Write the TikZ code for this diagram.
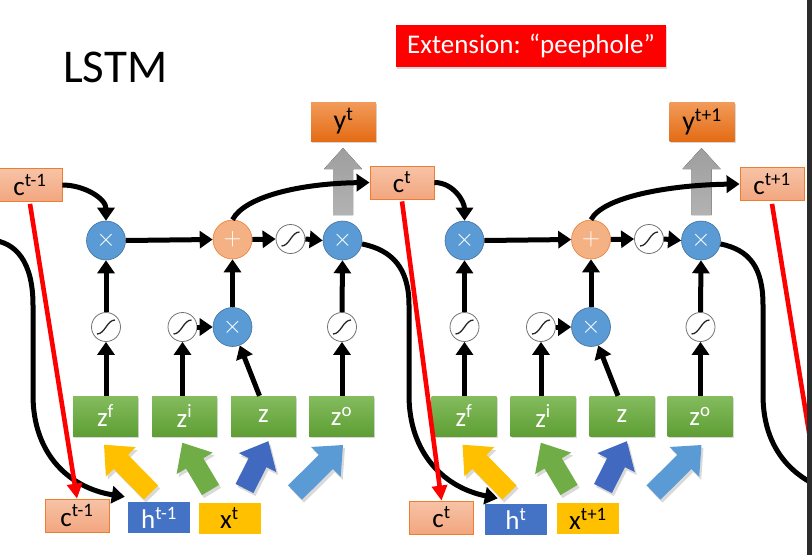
\documentclass[tikz,border=0pt]{standalone}
\usepackage{fontspec}
\setmainfont{Carlito}
\usetikzlibrary{arrows.meta,shadows,calc}
\definecolor{multf}{HTML}{5B9BD5}
\definecolor{multb}{HTML}{41719C}
\definecolor{plusf}{HTML}{F4B183}
\definecolor{plusb}{HTML}{ED7D31}
\definecolor{zt}{HTML}{84BC5E}
\definecolor{zb}{HTML}{5E9E34}
\definecolor{ctop}{HTML}{F7C3A6}
\definecolor{cbot}{HTML}{F2A67F}
\definecolor{cbd}{HTML}{ED7D31}
\definecolor{yt}{HTML}{F29B5A}
\definecolor{ybt}{HTML}{E46C15}
\definecolor{hblue}{HTML}{4472C4}
\definecolor{xyel}{HTML}{FFC000}
\definecolor{aYel}{HTML}{FFC000}
\definecolor{aGrn}{HTML}{70AD47}
\definecolor{aBlu}{HTML}{4169C0}
\definecolor{aLbl}{HTML}{5B9BD5}
\definecolor{stripc}{HTML}{2B2B2B}
\newcommand\myfs[1]{\fontsize{#1}{#1}\selectfont}
\tikzset{
  conn/.style={line width=5pt, -{Triangle[length=13pt,width=17pt]}},
  redconn/.style={draw=red, line width=4.6pt, -{Triangle[length=15pt,width=15pt]}},
  mult/.style={circle, fill=multf, draw=multb, line width=0.6pt, minimum size=39pt, inner sep=0pt, text=white, font=\myfs{28}},
  plusc/.style={mult, fill=plusf, draw=plusb},
  sig/.style={circle, fill=white, draw=black!55, line width=0.8pt, minimum size=29pt, inner sep=0pt,
    path picture={\draw[line width=1.3pt, black!85] ([shift={(-9pt,-7pt)}]path picture bounding box.center) .. controls +(8pt,0pt) and +(-8pt,0pt) .. ([shift={(9pt,7pt)}]path picture bounding box.center);}},
  zbox/.style={rectangle, minimum width=65pt, minimum height=40pt, inner sep=0pt, top color=zt, bottom color=zb, text=white, font=\myfs{27},
    drop shadow={shadow xshift=1pt, shadow yshift=-2pt, opacity=0.3}},
  cbox/.style={rectangle, minimum width=64pt, minimum height=33pt, inner sep=0pt, top color=ctop, bottom color=cbot, draw=cbd, line width=0.8pt, font=\myfs{27}},
  hbox/.style={rectangle, minimum width=62pt, minimum height=31pt, inner sep=0pt, fill=hblue, text=white, font=\myfs{27}},
  xbox/.style={rectangle, minimum width=62pt, minimum height=31pt, inner sep=0pt, fill=xyel, text=black, font=\myfs{27}},
  ybox/.style={rectangle, minimum width=65pt, minimum height=39pt, inner sep=0pt, top color=yt, bottom color=ybt, font=\myfs{28},
    drop shadow={shadow xshift=1pt, shadow yshift=-2pt, opacity=0.3}},
  titlebox/.style={rectangle, minimum width=270pt, minimum height=42pt, inner sep=0pt, fill=red, text=white, font=\myfs{27},
    drop shadow={shadow xshift=1pt, shadow yshift=-2pt, opacity=0.3}},
}
% block arrow: tail x, tail y, angle, length, colour
\newcommand\barr[5]{%
  \begin{scope}[shift={({#1+2},{#2+3})}, rotate=#3]
    \fill[black, opacity=0.15] (0,-10) -- ({#4-24},-10) -- ({#4-24},-21) -- (#4,0) -- ({#4-24},21) -- ({#4-24},10) -- (0,10) -- cycle;
  \end{scope}
  \begin{scope}[shift={(#1,#2)}, rotate=#3]
    \fill[#5] (0,-10) -- ({#4-24},-10) -- ({#4-24},-21) -- (#4,0) -- ({#4-24},21) -- ({#4-24},10) -- (0,10) -- cycle;
  \end{scope}}
% cell: shift, suffix, y text, left c node, right c node
\newcommand\lstmcell[5]{%
  \begin{scope}[shift={(#1,0)}]
    \fill[top color=black!38, bottom color=black!30] (333,215) -- (333,169) -- (324,169) -- (343,148) -- (362,169) -- (353,169) -- (353,215) -- cycle;
    \node[ybox] (y#2) at (343.5,121.5) {y\textsuperscript{#3}};
    \node[mult] (fX#2) at (106,240.5) {$\times$};
    \node[plusc] (pl#2) at (232.5,239.5) {$+$};
    \node[sig] (sc#2) at (290.5,239) {};
    \node[mult] (oX#2) at (342.5,240.5) {$\times$};
    \node[sig] (sf#2) at (106,327) {};
    \node[sig] (si#2) at (182.5,327) {};
    \node[mult] (iX#2) at (232.5,327) {$\times$};
    \node[sig] (so#2) at (342,327) {};
    \node[zbox] (zf#2) at (105.5,416) {z\textsuperscript{f}};
    \node[zbox] (zi#2) at (184.5,416) {z\textsuperscript{i}};
    \node[zbox] (zz#2) at (263.5,416) {z};
    \node[zbox] (zo#2) at (341.5,416) {z\textsuperscript{o}};
    \barr{151}{492.5}{134.5}{67}{aYel}
    \barr{210.5}{490}{120.8}{55}{aGrn}
    \barr{244.5}{488.5}{63.2}{53}{aBlu}
    \barr{295}{492.5}{44.7}{67.5}{aLbl}
  \end{scope}
  \draw[conn] (sf#2.south |- zf#2.north) -- (sf#2.south);
  \draw[conn] (sf#2.north) -- (fX#2.south);
  \draw[conn] (si#2.south |- zi#2.north) -- (si#2.south);
  \draw[conn] (si#2.east) -- (iX#2.west);
  \draw[conn] ($(zz#2.north)+(-4,0)$) -- (iX#2);
  \draw[conn] (iX#2.north) -- (pl#2.south);
  \draw[conn] (fX#2.east) -- (pl#2.west);
  \draw[conn] (pl#2.east) -- (sc#2.west);
  \draw[conn] (sc#2.east) -- (oX#2.west);
  \draw[conn] (so#2.south |- zo#2.north) -- (so#2.south);
  \draw[conn] (so#2.north) -- (oX#2.south);
  \draw[conn] (#4.east) to[out=0,in=90] (fX#2.north);
  \draw[conn] (pl#2.north) .. controls +(12,-23) and +(-70,1) .. (#5.west);
}
\begin{document}
\begin{tikzpicture}[x=1pt,y=-1pt]
\useasboundingbox (0,0) rectangle (812,555);
\clip (0,0) rectangle (812,555);
\fill[white] (0,0) rectangle (812,555);
\node[anchor=base west, font=\myfs{47}, inner sep=0pt] (title) at (63,82) {LSTM};
\node[titlebox] (ext) at (531,46) {Extension: “peephole”};
% top memory boxes
\node[cbox] (ctA) at (30,185) {c\textsuperscript{t-1}};
\node[cbox] (ctB) at (402,182.5) {c\textsuperscript{t}};
\node[cbox] (ctC) at (772,184) {c\textsuperscript{t+1}};
% bottom boxes
\node[cbox] (cb1) at (77,515.5) {c\textsuperscript{t-1}};
\node[hbox] (h1) at (159,517.5) {h\textsuperscript{t-1}};
\node[xbox] (x1) at (229.5,518) {x\textsuperscript{t}};
\node[cbox] (cb2) at (441.5,517.5) {c\textsuperscript{t}};
\node[hbox] (h2) at (516,519) {h\textsuperscript{t}};
\node[xbox] (x2) at (588,518.5) {x\textsuperscript{t+1}};
\lstmcell{0}{1}{t}{ctA}{ctB}
\lstmcell{358.5}{2}{t+1}{ctB}{ctC}
% recurrent h connections
\coordinate (inL) at (-9,240);
\coordinate (outR) at (854,497);
\draw[conn] (inL) .. controls (16,242) and (33,262) .. (33,305) -- (33,395) .. controls (33,455) and (70,488) .. ($(h1.north west)+(-3,-5)$);
\draw[conn] (oX1.-10) .. controls (392,250) and (409,268) .. (409,305) -- (409,395) .. controls (409,455) and (446,488) .. ($(h2.north west)+(13,-5)$);
\draw[line width=5pt] (oX2.-10) .. controls (750,250) and (763,268) .. (763,305) -- (763,395) .. controls (763,455) and (800,488) .. (outR);
% red c connections
\coordinate (redR) at (820,500);
\draw[redconn] ([yshift=-2pt]ctA.south) -- (cb1.north);
\draw[redconn] ([yshift=-2pt]ctB.south) -- (cb2.north);
\draw[redconn, -] ([yshift=-3pt]ctC.south) -- (redR);
\fill[stripc] (807,0) rectangle (812,555);
\end{tikzpicture}
\end{document}
